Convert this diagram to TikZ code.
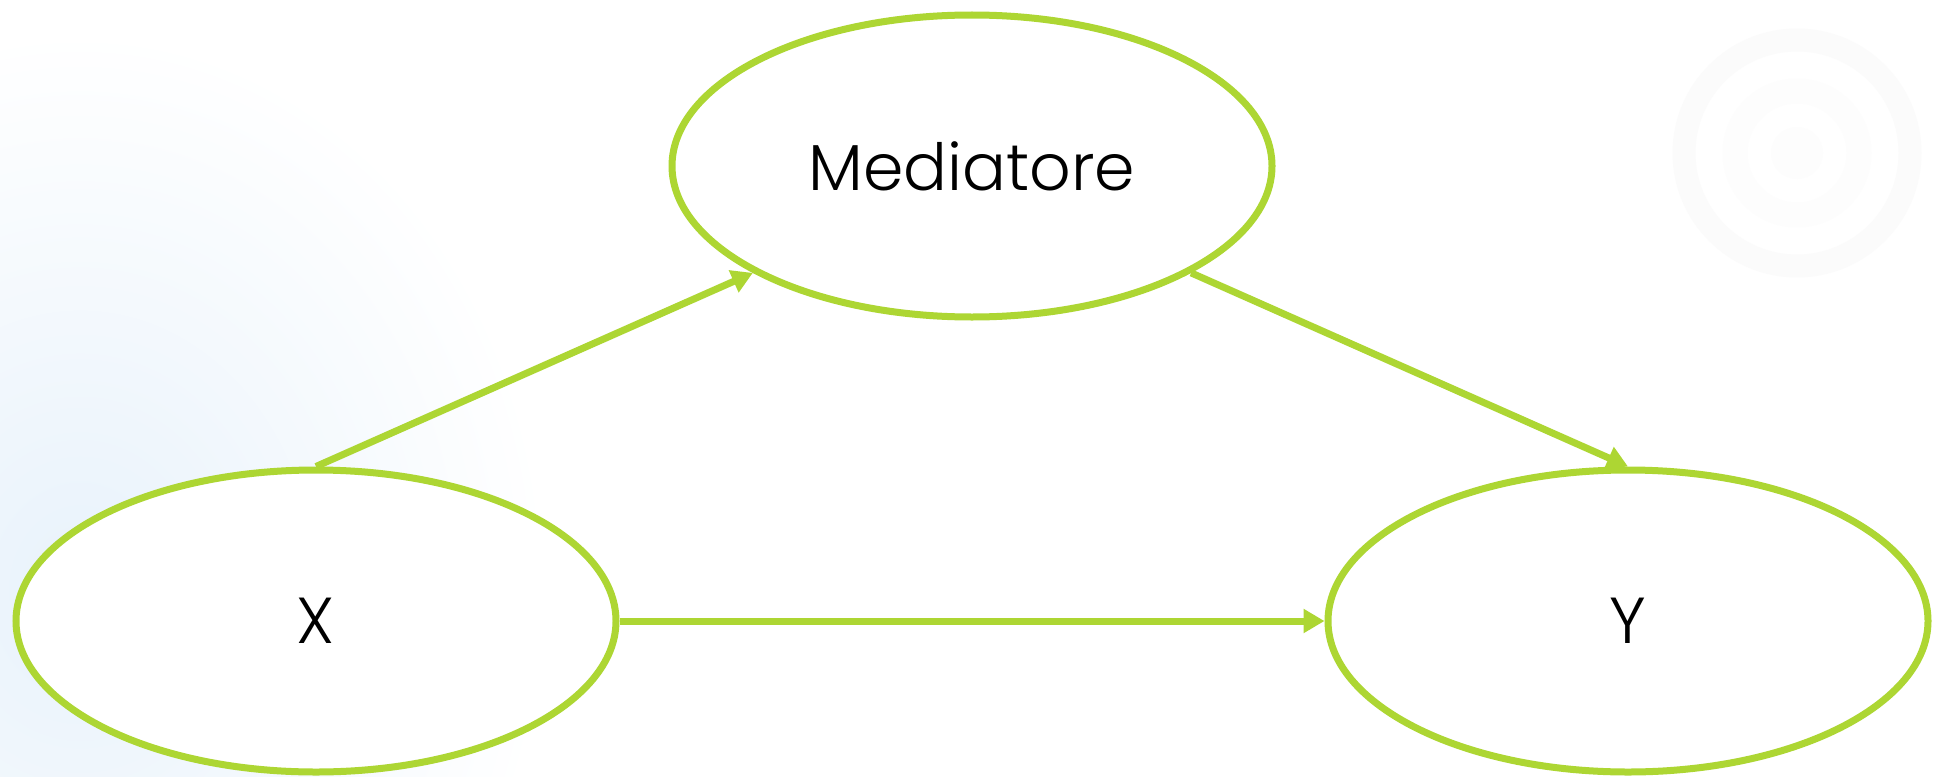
\documentclass[tikz,border=0pt]{standalone}
\usepackage{fontspec}
\setmainfont{Poppins Light}
\usetikzlibrary{shapes.geometric,arrows.meta}
\definecolor{lime}{RGB}{173,214,51}
\definecolor{haze}{RGB}{232,242,251}
\definecolor{ringgrey}{RGB}{251,251,251}
\definecolor{ringfaint}{RGB}{253,253,253}
\begin{document}
\begin{tikzpicture}[x=1pt,y=-1pt,
  var/.style={ellipse, draw=lime, line width=7pt, fill=white,
    minimum width=600pt, minimum height=302pt, inner sep=0pt,
    font=\fontsize{65}{78}\selectfont, text=black},
  link/.style={draw=lime, line width=7pt, -{Triangle[length=21pt,width=23pt]}}]
\useasboundingbox (0,0) rectangle (1934,776);
\fill[white] (0,0) rectangle (1934,776);
\begin{scope}
  \clip (0,0) rectangle (1934,776);
  \shade[inner color=haze, outer color=white] (80,590) ellipse (470 and 560);
  \draw[ringgrey, line width=23pt] (1797,153) circle (113);
  \draw[ringfaint, line width=25pt] (1797,153) circle (62);
  \fill[ringfaint] (1797,153) circle (26);
\end{scope}
\node[var] (M) at (972,166) {Mediatore};
\node[var] (X) at (316,621) {X};
\node[var] (Y) at (1628,621) {Y};
\draw[link] (X.north) -- (M.206);
\draw[link] (M.334) -- (Y.north);
\draw[link] (X.east) -- (Y.west);
\end{tikzpicture}
\end{document}
